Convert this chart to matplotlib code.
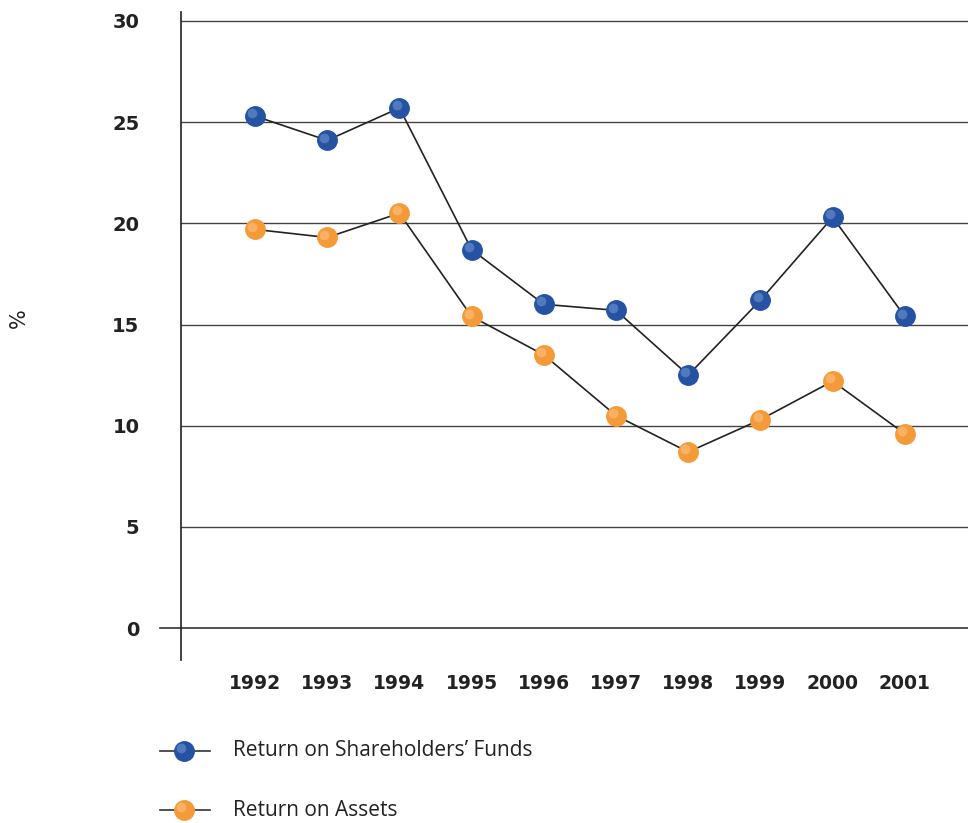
import matplotlib
matplotlib.use("Agg")
import matplotlib.pyplot as plt
import matplotlib.transforms as mtransforms
from matplotlib.lines import Line2D

years = [1992, 1993, 1994, 1995, 1996, 1997, 1998, 1999, 2000, 2001]
shareholders = [25.3, 24.1, 25.7, 18.7, 16.0, 15.7, 12.5, 16.2, 20.3, 15.4]
assets = [19.7, 19.3, 20.5, 15.4, 13.5, 10.5, 8.7, 10.3, 12.2, 9.6]
y_ticks = [0, 5, 10, 15, 20, 25, 30]
labels = ["Return on Shareholders\u2019 Funds", "Return on Assets"]

blue, blue_hi = "#2552a3", "#6f95cf"
orange, orange_hi = "#f59a38", "#fcc283"

fig = plt.figure(figsize=(9.68, 8.23), dpi=100)
ax = fig.add_axes([0.187, 0.198, 0.813, 0.7876])
ax.set_xlim(1990.975, 2001.875)
ax.set_ylim(-1.58, 30.45)

for t in y_ticks[1:]:
    ax.axhline(t, color="#444444", lw=1.0, zorder=1)
ax.axhline(0, xmin=-0.027, xmax=1, color="#333333", lw=1.2, clip_on=False, zorder=1)

# highlight offset for the glossy marker look
off = mtransforms.ScaledTranslation(-2 / 72, 2 / 72, fig.dpi_scale_trans)
hi = ax.transData + off

for vals, c, ch in [(shareholders, blue, blue_hi), (assets, orange, orange_hi)]:
    ax.plot(years, vals, color="#222222", lw=1.2, zorder=2)
    ax.plot(years, vals, ls="none", marker="o", ms=14, mfc=c, mec=c, zorder=3)
    ax.plot(years, vals, ls="none", marker="o", ms=7, mfc=ch, mec="none",
            alpha=0.6, transform=hi, zorder=4)

for s in ["top", "right", "bottom"]:
    ax.spines[s].set_visible(False)
ax.spines["left"].set_color("#222222")
ax.spines["left"].set_linewidth(1.2)

ax.set_yticks(y_ticks)
ax.set_yticklabels([str(t) for t in y_ticks])
ax.set_xticks(years)
ax.set_xticklabels([str(y) for y in years])
ax.tick_params(axis="y", length=0, pad=30, labelsize=14, labelcolor="#222222")
ax.tick_params(axis="x", length=0, pad=10, labelsize=13.5, labelcolor="#222222")
for lab in ax.get_xticklabels() + ax.get_yticklabels():
    lab.set_fontweight("bold")

fig.text(0.019, 1 - 318 / 823, "%", rotation=90, ha="center", va="center",
         fontsize=15, color="#222222")

# legend
for i, (lab, c, ch) in enumerate(zip(labels, [blue, orange], [blue_hi, orange_hi])):
    yy = 1 - (751 + 59 * i) / 823
    fig.add_artist(Line2D([160 / 968, 210 / 968], [yy, yy], color="#333333", lw=1.2))
    fig.add_artist(Line2D([184 / 968], [yy], marker="o", ms=14, mfc=c, mec=c))
    fig.add_artist(Line2D([184 / 968], [yy], marker="o", ms=7, mfc=ch, mec="none",
                          alpha=0.6, transform=fig.transFigure + off))
    fig.text(233 / 968, yy, lab, ha="left", va="center", fontsize=15,
             family="Open Sans", color="#222222")

fig.savefig("out.png", dpi=100)
